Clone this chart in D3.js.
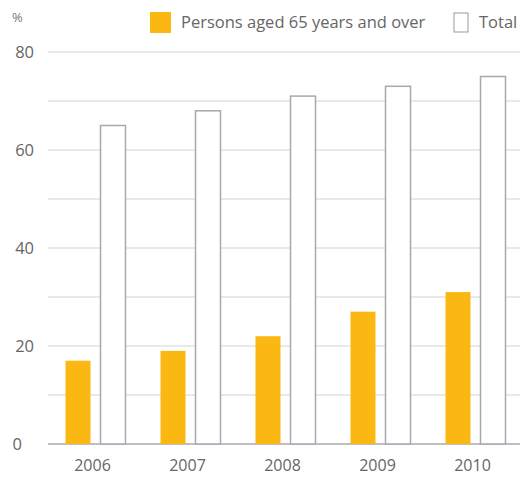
<!DOCTYPE html>
<html><head><meta charset="utf-8">
<script src="https://cdn.jsdelivr.net/npm/d3@7"></script>
<style>body{margin:0;background:#fff;} text{font-family:"Open Sans",sans-serif;}</style>
</head><body>
<svg id="c" width="522" height="477"></svg>
<script>
const years = ["2006","2007","2008","2009","2010"];
const seniors = [17,19,22,27,31];
const total = [65,68,71,73,75];
const yTicks = [0,20,40,60,80];
const seriesNames = ["Persons aged 65 years and over","Total"];

const svg = d3.select("#c");
const x = d3.scaleBand().domain(years).range([48,523]).paddingInner(0).paddingOuter(0);
const y = d3.scaleLinear().domain([0,80]).range([444,52]);
const bw = 25, gap = 10;

// gridlines
svg.append("g").selectAll("line").data(d3.range(0,81,10)).join("line")
  .attr("x1",48).attr("x2",520)
  .attr("y1",d=>y(d)).attr("y2",d=>y(d))
  .attr("stroke",d=>d===0?"#a8a8b0":"#d4d4d8").attr("stroke-width",d=>d===0?1.5:1.2);

// y labels
svg.append("g").selectAll("text").data(yTicks).join("text")
  .attr("x",d=>d===0?22:34).attr("y",d=>y(d)+6)
  .attr("text-anchor","end").attr("font-size",16.5).attr("fill","#666")
  .text(d=>d);
svg.append("text").attr("x",12).attr("y",22).attr("font-size",13).attr("fill","#777").text("%");

// bars
const g = svg.append("g");
g.selectAll("rect.s").data(years).join("rect").attr("class","s")
  .attr("x",d=>x(d)+x.bandwidth()/2-bw-gap/2)
  .attr("width",bw)
  .attr("y",(d,i)=>y(seniors[i])).attr("height",(d,i)=>y(0)-y(seniors[i]))
  .attr("fill","#FBB712");
g.selectAll("rect.t").data(years).join("rect").attr("class","t")
  .attr("x",d=>x(d)+x.bandwidth()/2+gap/2)
  .attr("width",bw)
  .attr("y",(d,i)=>y(total[i])).attr("height",(d,i)=>y(0)-y(total[i]))
  .attr("fill","#fff").attr("stroke","#a8a8b0").attr("stroke-width",1.5);

// x labels
svg.append("g").selectAll("text").data(years).join("text")
  .attr("x",d=>x(d)+x.bandwidth()/2-3).attr("y",471)
  .attr("text-anchor","middle").attr("font-size",16).attr("fill","#666")
  .text(d=>d);

// legend
svg.append("rect").attr("x",150).attr("y",12).attr("width",21).attr("height",21).attr("fill","#FBB712");
svg.append("text").attr("x",181).attr("y",28).attr("font-size",16.5).attr("fill","#666").text(seriesNames[0]);
svg.append("rect").attr("x",454).attr("y",13).attr("width",14).attr("height",19).attr("fill","#fff").attr("stroke","#999").attr("stroke-width",1);
svg.append("text").attr("x",479).attr("y",28).attr("font-size",16.5).attr("fill","#666").text(seriesNames[1]);
</script>
</body></html>
